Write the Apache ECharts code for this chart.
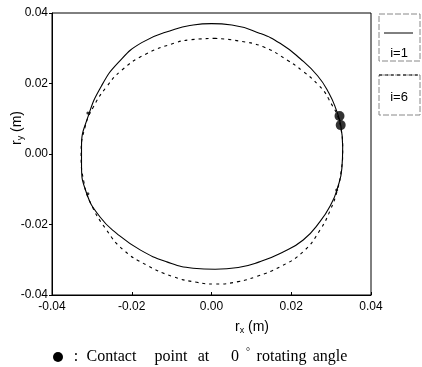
<!DOCTYPE html>
<html>
<head>
<meta charset="utf-8">
<script src="https://cdn.jsdelivr.net/npm/echarts@6/dist/echarts.min.js"></script>
<style>
html,body{margin:0;padding:0;background:#fff;}
#c{width:422px;height:367px;}
</style>
</head>
<body>
<div id="c"></div>
<script>
// Tick labels
const tickLabels = ["-0.04", "-0.02", "0.00", "0.02", "0.04"];
// Series i=1 (solid) profile points [rx, ry] in metres
const profileI1 = [
  [0.0000, 0.0370], [-0.0046, 0.0366], [-0.0092, 0.0354], [-0.0175, 0.0316],
  [-0.0234, 0.0259], [-0.0276, 0.0193], [-0.0309, 0.0108], [-0.0326, 0.0020],
  [-0.0326, -0.0030], [-0.0313, -0.0112], [-0.0280, -0.0178], [-0.0238, -0.0225],
  [-0.0179, -0.0272], [-0.0112, -0.0306], [-0.0046, -0.0324], [0.0009, -0.0327],
  [0.0067, -0.0322], [0.0120, -0.0306], [0.0176, -0.0280], [0.0230, -0.0244],
  [0.0272, -0.0192], [0.0301, -0.0140], [0.0315, -0.0100], [0.0327, -0.0040],
  [0.0329, 0.0020], [0.0324, 0.0082], [0.0312, 0.0128], [0.0294, 0.0174],
  [0.0266, 0.0222], [0.0222, 0.0271], [0.0172, 0.0314], [0.0122, 0.0342],
  [0.0051, 0.0366], [0.0000, 0.0370]
];
// Series i=6 (dashed) profile points
const profileI6 = [
  [0.0010, 0.0328], [-0.0054, 0.0324], [-0.0092, 0.0315], [-0.0167, 0.0282],
  [-0.0225, 0.0238], [-0.0263, 0.0191], [-0.0296, 0.0134], [-0.0317, 0.0077],
  [-0.0327, 0.0000], [-0.0320, -0.0080], [-0.0303, -0.0140], [-0.0263, -0.0216],
  [-0.0221, -0.0272], [-0.0163, -0.0315], [-0.0096, -0.0348], [-0.0037, -0.0364],
  [0.0009, -0.0369], [0.0067, -0.0362], [0.0114, -0.0347], [0.0172, -0.0320],
  [0.0230, -0.0277], [0.0272, -0.0216], [0.0298, -0.0159], [0.0315, -0.0105],
  [0.0325, -0.0050], [0.0329, 0.0010], [0.0324, 0.0075], [0.0293, 0.0158],
  [0.0268, 0.0196], [0.0230, 0.0234], [0.0189, 0.0267], [0.0130, 0.0304],
  [0.0067, 0.0321], [0.0010, 0.0328]
];
// Contact points at 0 deg rotating angle
const contactPoints = [[0.0321, 0.0108], [0.0324, 0.0082]];
// Small marks on the profile
const smallMarks = [[-0.0310, 0.0116], [-0.0310, -0.0113], [0.0314, -0.0102]];

const legendNames = ["i=1", "i=6"];
const footerWords = [":", "Contact", "point", "at", "0", "\u00B0", "rotating", "angle"];
const footerWordX = [76, 111.5, 171, 203.5, 235, 248, 281.5, 330];

const tickFont = {fontFamily: "Liberation Sans Narrow, Liberation Sans, sans-serif", fontSize: 12, color: "#000"};

const footerGraphics = footerWords.map((w, i) => ({
  type: 'text', x: footerWordX[i], y: w === "\u00B0" ? 352 : 357,
  style: {text: w, fill: '#000', font: (w === "\u00B0" ? '10px' : '16px') + ' Liberation Serif, serif', verticalAlign: 'middle', align: 'center'}
}));

const chart = echarts.init(document.getElementById('c'), null, {renderer: 'canvas'});
chart.setOption({
  animation: false,
  backgroundColor: '#fff',
  grid: {left: 52, right: 51, top: 13, bottom: 72, show: true, borderColor: '#000', borderWidth: 1},
  xAxis: {
    type: 'value', min: -0.04, max: 0.04, interval: 0.02,
    axisLine: {show: true, onZero: false, lineStyle: {color: '#000', width: 1}},
    axisTick: {show: true, inside: true, length: 3, lineStyle: {color: '#000'}},
    splitLine: {show: false},
    axisLabel: Object.assign({margin: 6, formatter: (v) => tickLabels[Math.round((v + 0.04) / 0.02)]}, tickFont)
  },
  yAxis: {
    type: 'value', min: -0.04, max: 0.04, interval: 0.02,
    axisLine: {show: true, onZero: false, lineStyle: {color: '#000', width: 1}},
    axisTick: {show: true, inside: false, length: 3, lineStyle: {color: '#000'}},
    splitLine: {show: false},
    axisLabel: Object.assign({margin: 4, formatter: (v) => tickLabels[Math.round((v + 0.04) / 0.02)]}, tickFont)
  },
  series: [
    {name: legendNames[0], type: 'line', data: profileI1, smooth: 0.5, symbol: 'none',
     lineStyle: {color: '#000', width: 1.1}},
    {name: legendNames[1], type: 'line', data: profileI6, smooth: 0.5, symbol: 'none',
     lineStyle: {color: '#000', width: 1.1, type: [3, 4]}},
    {type: 'scatter', data: contactPoints, symbol: 'circle', symbolSize: 10,
     itemStyle: {color: '#000'}, z: 5},
    {type: 'scatter', data: smallMarks, symbol: 'circle', symbolSize: 3,
     itemStyle: {color: '#000'}, z: 5}
  ],
  graphic: [
    // legend boxes
    {type: 'rect', shape: {x: 379, y: 14, width: 41, height: 47}, style: {fill: 'none', stroke: '#888', lineWidth: 1, lineDash: [6, 2]}},
    {type: 'line', shape: {x1: 384, y1: 33, x2: 413, y2: 33}, style: {stroke: '#000', lineWidth: 1}},
    {type: 'text', x: 399, y: 53, style: {text: legendNames[0], fill: '#000', font: '13px Liberation Sans Narrow, Liberation Sans, sans-serif', align: 'center', verticalAlign: 'middle'}},
    {type: 'rect', shape: {x: 379, y: 75, width: 41, height: 40}, style: {fill: 'none', stroke: '#888', lineWidth: 1, lineDash: [6, 2]}},
    {type: 'line', shape: {x1: 379, y1: 75, x2: 420, y2: 75}, style: {stroke: '#000', lineWidth: 1, lineDash: [3, 3]}},
    {type: 'text', x: 399, y: 97, style: {text: legendNames[1], fill: '#000', font: '13px Liberation Sans Narrow, Liberation Sans, sans-serif', align: 'center', verticalAlign: 'middle'}},
    // axis names
    {type: 'text', x: 252, y: 327, style: {
      text: '{r|r}{s|x}{r| (m)}', align: 'center', verticalAlign: 'middle',
      rich: {r: {fontSize: 14, fontFamily: 'Liberation Sans, sans-serif', fill: '#000'},
             s: {fontSize: 9, fontFamily: 'Liberation Sans, sans-serif', fill: '#000', padding: [8, 0, 0, 0]}}
    }},
    {type: 'text', x: 17, y: 128, rotation: Math.PI / 2, style: {
      text: '{r|r}{s|y}{r| (m)}', align: 'center', verticalAlign: 'middle',
      rich: {r: {fontSize: 14, fontFamily: 'Liberation Sans, sans-serif', fill: '#000'},
             s: {fontSize: 9, fontFamily: 'Liberation Sans, sans-serif', fill: '#000', padding: [8, 0, 0, 0]}}
    }},
    // footer
    {type: 'circle', shape: {cx: 58, cy: 357, r: 5}, style: {fill: '#000'}}
  ].concat(footerGraphics)
});
</script>
</body>
</html>
